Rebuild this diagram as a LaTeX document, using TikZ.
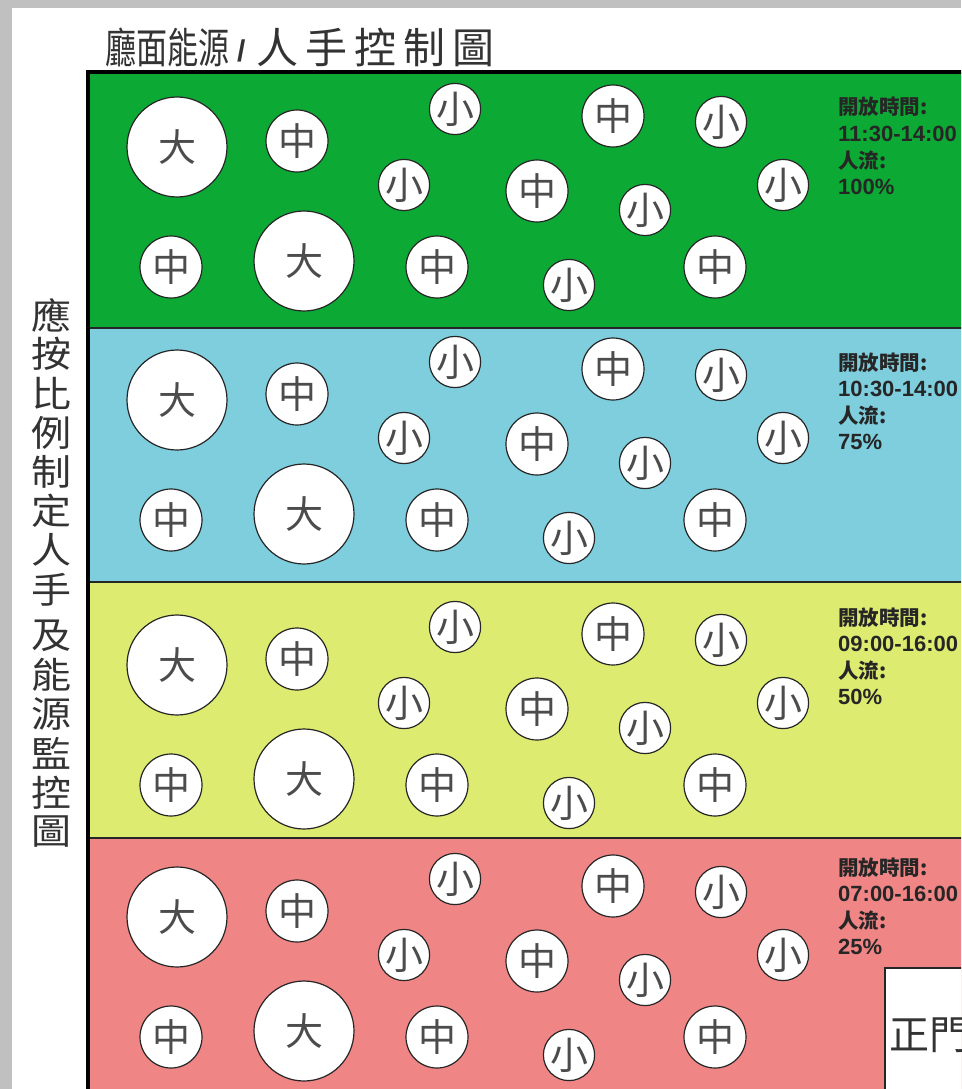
\documentclass[tikz,border=0pt]{standalone}
\usepackage{fontspec}
\setmainfont{Liberation Sans}
\newfontfamily\cjk{Noto Sans CJK TC}
\definecolor{bgreen}{RGB}{12,170,52}
\definecolor{bblue}{RGB}{126,206,222}
\definecolor{byellow}{RGB}{221,236,112}
\definecolor{bpink}{RGB}{240,133,133}
\definecolor{frame}{RGB}{192,192,192}
\tikzset{
  circ/.style={circle, draw=black!85, line width=1.2pt, fill=white, inner sep=0pt,
    font=\cjk\fontsize{38}{38}\selectfont, text=black!70},
  lab/.style={anchor=base west, inner sep=0pt, text=black!85},
  labcjk/.style={lab, font=\cjk\bfseries\fontsize{20.5}{20.5}\selectfont},
  labnum/.style={lab, font=\bfseries\fontsize{22}{22}\selectfont},
  vchar/.style={inner sep=0pt, font=\cjk\fontsize{40}{40}\selectfont, text=black!80},
  titlechar/.style={anchor=base west, inner sep=0pt, font=\cjk\fontsize{42}{42}\selectfont, text=black!80},
  bandline/.style={draw=black!85, line width=1.6pt},
}
\begin{document}
\begin{tikzpicture}[x=1pt,y=-1pt]
\useasboundingbox (0,0) rectangle (961,1089);
\clip (0,0) rectangle (961,1089);
\fill[white] (0,0) rectangle (961,1089);
% grey frame
\fill[frame] (0,0) rectangle (961,8);
\fill[frame] (0,0) rectangle (12,1089);
% bands
\fill[bgreen] (88,72) rectangle (1000,328);
\fill[bblue] (88,328) rectangle (1000,582);
\fill[byellow] (88,582) rectangle (1000,838);
\fill[bpink] (88,838) rectangle (1000,1100);
\draw[bandline] (88,328) -- (1000,328);
\draw[bandline] (88,582) -- (1000,582);
\draw[bandline] (88,838) -- (1000,838);
\draw[black, line width=3.5pt] (1000,72) -- (88,72) -- (88,1100);
% circles
\foreach \b/\dy in {1/0,2/253,3/518,4/770} {
  \foreach \i/\x/\y/\d/\t in {
     1/177/147/100/大, 2/297/141/62/中, 3/455/109/48/小, 4/404/185/48/小,
     5/171/267/62/中, 6/304/261/100/大, 7/437/267/62/中, 8/613/116/62/中,
     9/721/122/48/小, 10/537/191/62/中, 11/645/210/48/小, 12/783/185/48/小,
     13/569/285/48/小, 14/715/267/62/中} {
    \node[circ, minimum size=\d] (c\b-\i) at (\x,\y+\dy) {\t};
  }
}
% labels
\foreach \b/\dy/\tm/\pc in {1/0/11:30-14:00/100\%, 2/255/10:30-14:00/75\%, 3/510/09:00-16:00/50\%, 4/760/07:00-16:00/25\%} {
  \node[labcjk] (l\b-1) at (838,115+\dy) {開放時間:};
  \node[labnum] (l\b-2) at (838,141.5+\dy) {\tm};
  \node[labcjk] (l\b-3) at (838,168+\dy) {人流:};
  \node[labnum] (l\b-4) at (838,194.5+\dy) {\pc};
}
% door
\node[draw=black!85, line width=1.5pt, fill=white, anchor=north west, minimum width=150, minimum height=200] (door) at (884,967) {};
\node[anchor=base west, inner sep=0pt, font=\cjk\fontsize{40}{40}\selectfont, text=black!80] (doortext) at (889,1049) {正門};
% title
\node[titlechar] (title1) at (105,64) {\scalebox{0.74}[1]{廳面能源}};
\node[anchor=base west, inner sep=0pt, font=\bfseries\fontsize{30}{30}\selectfont, text=black!80] (title2) at (237,62) {/};
\node[titlechar] (title3) at (256,64) {人\hspace{7pt}手\hspace{7pt}控\hspace{7pt}制\hspace{7pt}圖};
% vertical text
\foreach \i/\c in {0/應,1/按,2/比,3/例,4/制,5/定,6/人,7/手} {
  \node[vchar] (v\i) at (51,315+39.2*\i) {\scalebox{1}[0.9]{\c}};
}
\foreach \i/\c in {8/及,9/能,10/源,11/監,12/控,13/圖} {
  \node[vchar] (v\i) at (51,322+39.2*\i) {\scalebox{1}[0.9]{\c}};
}
\end{tikzpicture}
\end{document}
